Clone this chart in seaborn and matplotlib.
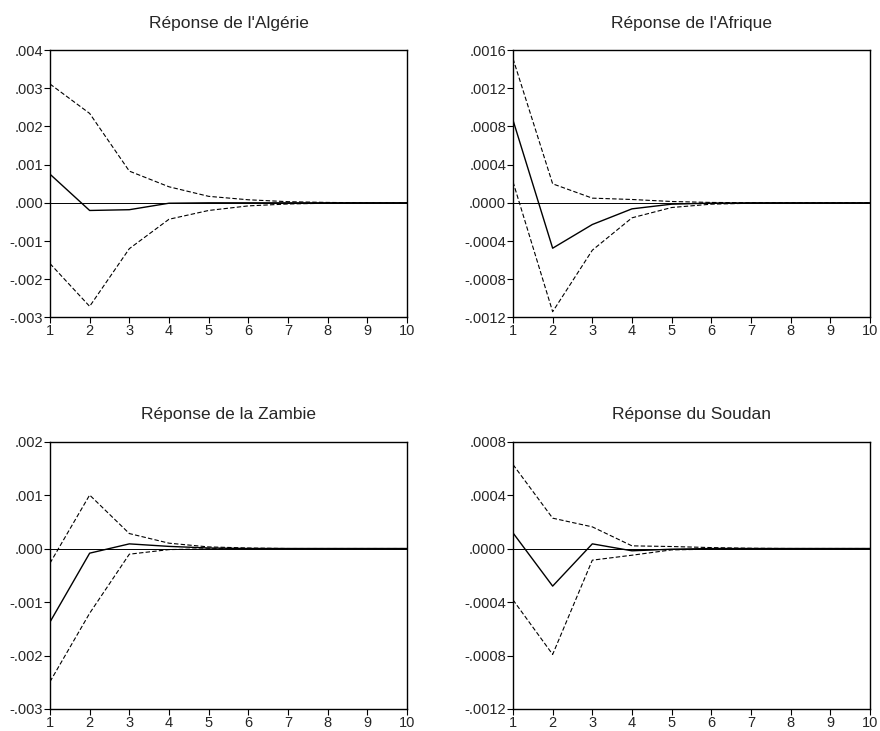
import numpy as np
import pandas as pd
import matplotlib
matplotlib.use("Agg")
import matplotlib.pyplot as plt
import seaborn as sns
from matplotlib.ticker import FuncFormatter

# horizons 1..10
periods = list(range(1, 11))

titles = ["Réponse de l'Algérie", "Réponse de l'Afrique",
          "Réponse de la Zambie", "Réponse du Soudan"]

# impulse responses (centre) and +/- 2 s.e. bands
alg_mid = [0.00075, -0.00020, -0.00018, -0.00001, 0.0, 0.0, 0.0, 0.0, 0.0, 0.0]
alg_up = [0.00311, 0.00234, 0.00083, 0.00042, 0.00017, 0.00008, 0.00003, 0.00001, 0.0, 0.0]
alg_lo = [-0.00159, -0.00271, -0.00120, -0.00043, -0.00020, -0.00008, -0.00003, -0.00001, 0.0, 0.0]

afr_mid = [0.000866, -0.000475, -0.000227, -0.000063, -0.000014, -0.000003, 0.0, 0.0, 0.0, 0.0]
afr_up = [0.00151, 0.000199, 0.000049, 0.000035, 0.000014, 0.000004, 0.000001, 0.0, 0.0, 0.0]
afr_lo = [0.00022, -0.00114, -0.000496, -0.000157, -0.000049, -0.000014, -0.000004, -0.000001, 0.0, 0.0]

zam_mid = [-0.001374, -0.000087, 0.000087, 0.00004, 0.00001, 0.0, 0.0, 0.0, 0.0, 0.0]
zam_up = [-0.000274, 0.00100, 0.00028, 0.00010, 0.00003, 0.00001, 0.0, 0.0, 0.0, 0.0]
zam_lo = [-0.00249, -0.00121, -0.000106, -0.00002, -0.000005, 0.0, 0.0, 0.0, 0.0, 0.0]

sou_mid = [0.000117, -0.000281, 0.000035, -0.000017, -0.000005, 0.0, 0.0, 0.0, 0.0, 0.0]
sou_up = [0.000628, 0.000227, 0.000162, 0.00002, 0.000015, 0.000007, 0.000002, 0.0, 0.0, 0.0]
sou_lo = [-0.000384, -0.000792, -0.000087, -0.00005, -0.00001, -0.000005, -0.000002, 0.0, 0.0, 0.0]

series = [(alg_mid, alg_up, alg_lo), (afr_mid, afr_up, afr_lo),
          (zam_mid, zam_up, zam_lo), (sou_mid, sou_up, sou_lo)]

y_ticks = [
    [-0.003, -0.002, -0.001, 0.0, 0.001, 0.002, 0.003, 0.004],
    [-0.0012, -0.0008, -0.0004, 0.0, 0.0004, 0.0008, 0.0012, 0.0016],
    [-0.003, -0.002, -0.001, 0.0, 0.001, 0.002],
    [-0.0012, -0.0008, -0.0004, 0.0, 0.0004, 0.0008],
]
y_decimals = [3, 4, 3, 4]

sns.set_theme(style="ticks")
plt.rcParams['font.family'] = ['Liberation Sans', 'DejaVu Sans']


def eviews_fmt(nd):
    def f(v, pos):
        s = f"{v:.{nd}f}"
        if s.startswith("-0."):
            return "-" + s[2:]
        if s.startswith("0."):
            return s[1:]
        return s
    return FuncFormatter(f)


fig, axes = plt.subplots(2, 2, figsize=(8.8, 7.31), dpi=100)
fig.subplots_adjust(left=0.0568, right=0.9886, top=0.9316, bottom=0.0301,
                    wspace=0.297, hspace=0.464)

for i, ax in enumerate(axes.flat):
    mid, up, lo = series[i]
    df = pd.DataFrame({"periode": periods, "mid": mid, "up": up, "lo": lo})
    ax.axhline(0, color="black", lw=0.7)
    sns.lineplot(data=df, x="periode", y="up", ax=ax, color="black", lw=0.8,
                 linestyle=(0, (4, 2)))
    sns.lineplot(data=df, x="periode", y="lo", ax=ax, color="black", lw=0.8,
                 linestyle=(0, (4, 2)))
    sns.lineplot(data=df, x="periode", y="mid", ax=ax, color="black", lw=1.0)
    ax.set_xlim(1, 10)
    ax.set_xticks(periods)
    yt = y_ticks[i]
    ax.set_yticks(yt)
    ax.set_ylim(yt[0], yt[-1])
    ax.yaxis.set_major_formatter(eviews_fmt(y_decimals[i]))
    ax.set_xlabel("")
    ax.set_ylabel("")
    ax.set_title(titles[i], fontsize=12.5, pad=16)
    ax.tick_params(labelsize=10.5, length=4, width=0.8, pad=1, color="black")
    for s in ax.spines.values():
        s.set_linewidth(1.0)
        s.set_color("black")

plt.savefig("out.png", dpi=100)
